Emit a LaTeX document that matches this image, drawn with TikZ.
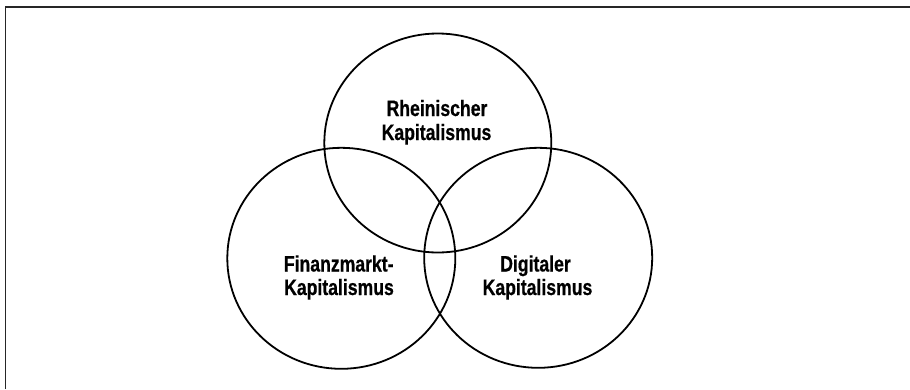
\documentclass[tikz,border=0pt]{standalone}
\usepackage{fontspec}
\newfontfamily\labelfont[FakeStretch=0.79,UprightFont={* Bold},FakeBold=0.6]{Liberation Sans}
\begin{document}
\begin{tikzpicture}[x=1bp,y=-1bp,
  ring/.style={draw=black,line width=1.8bp},
  frameline/.style={draw=black!85,line width=1.8bp},
  lbl/.style={inner sep=0pt,anchor=base,font=\labelfont\fontsize{22.3bp}{23.5bp}\selectfont}]
\useasboundingbox (0,0) rectangle (910,389);
\coordinate (fa) at (5.5,389);
\coordinate (fb) at (5.5,7);
\coordinate (fc) at (910,7);
\draw[frameline] (fa) -- (fb) -- (fc);
\coordinate (ct) at (437.8,143);
\coordinate (cl) at (341.3,258.3);
\coordinate (cr) at (538.2,257.8);
\draw[ring] (ct) ellipse [x radius=113.5bp, y radius=109.5bp];
\draw[ring] (cl) ellipse [x radius=114bp, y radius=110.5bp];
\draw[ring] (cr) ellipse [x radius=114bp, y radius=110bp];
\node[lbl] (t1) at (437,116) {Rheinischer};
\node[lbl] (t2) at (436.5,140) {Kapitalismus};
\node[lbl] (l1) at (338.7,271.5) {Finanzmarkt-};
\node[lbl] (l2) at (339,295) {Kapitalismus};
\node[lbl] (r1) at (535.5,271.5) {Digitaler};
\node[lbl] (r2) at (537.5,295) {Kapitalismus};
\end{tikzpicture}
\end{document}
